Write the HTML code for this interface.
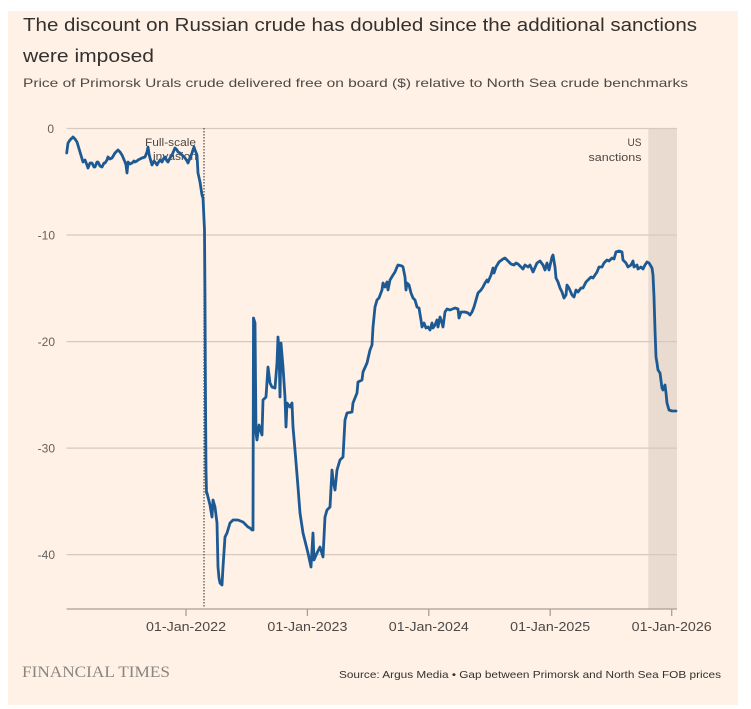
<!DOCTYPE html>
<html>
<head>
<meta charset="utf-8">
<style>
html,body{margin:0;padding:0;background:#ffffff;}
svg{display:block;}
text{font-family:"Liberation Sans",sans-serif;}
text.serif{font-family:"Liberation Serif",serif;}
</style>
</head>
<body>
<svg width="751" height="709" viewBox="0 0 751 709" xmlns="http://www.w3.org/2000/svg">
<rect x="0" y="0" width="751" height="709" fill="#ffffff"/>
<rect x="8" y="11" width="730" height="694" fill="#fff1e5"/>

<!-- titles -->
<text x="23" y="31" font-size="18.5" fill="#33302e" textLength="674" lengthAdjust="spacingAndGlyphs">The discount on Russian crude has doubled since the additional sanctions</text>
<text x="23" y="62" font-size="18.5" fill="#33302e" textLength="131" lengthAdjust="spacingAndGlyphs">were imposed</text>
<text x="23" y="87" font-size="12" fill="#4d4845" textLength="665" lengthAdjust="spacingAndGlyphs">Price of Primorsk Urals crude delivered free on board ($) relative to North Sea crude benchmarks</text>

<!-- shaded US sanctions band -->
<rect x="648.3" y="128.5" width="28.7" height="480.5" fill="#e9dbd0"/>

<!-- gridlines -->
<g stroke="#d6c9be" stroke-width="1.3">
<line x1="66.5" y1="128.5" x2="677" y2="128.5"/>
<line x1="66.5" y1="235" x2="677" y2="235"/>
<line x1="66.5" y1="341.6" x2="677" y2="341.6"/>
<line x1="66.5" y1="448.1" x2="677" y2="448.1"/>
<line x1="66.5" y1="554.6" x2="677" y2="554.6"/>
</g>

<!-- y labels -->
<g font-size="12" fill="#66605c" text-anchor="end">
<text x="54" y="133">0</text>
<text x="55" y="239.5">-10</text>
<text x="55" y="346">-20</text>
<text x="55" y="452.5">-30</text>
<text x="55" y="559">-40</text>
</g>

<!-- x axis -->
<line x1="66.5" y1="609" x2="677" y2="609" stroke="#aaa097" stroke-width="1.3"/>
<g stroke="#aaa097" stroke-width="1.3">
<line x1="186" y1="609" x2="186" y2="616"/>
<line x1="307.4" y1="609" x2="307.4" y2="616"/>
<line x1="428.8" y1="609" x2="428.8" y2="616"/>
<line x1="550.2" y1="609" x2="550.2" y2="616"/>
<line x1="671.7" y1="609" x2="671.7" y2="616"/>
</g>
<g font-size="13" fill="#4d4845" text-anchor="middle">
<text x="186" y="631" textLength="80" lengthAdjust="spacingAndGlyphs">01-Jan-2022</text>
<text x="307.4" y="631" textLength="80" lengthAdjust="spacingAndGlyphs">01-Jan-2023</text>
<text x="428.8" y="631" textLength="80" lengthAdjust="spacingAndGlyphs">01-Jan-2024</text>
<text x="550.2" y="631" textLength="80" lengthAdjust="spacingAndGlyphs">01-Jan-2025</text>
<text x="671.7" y="631" textLength="80" lengthAdjust="spacingAndGlyphs">01-Jan-2026</text>
</g>

<!-- invasion dotted line -->
<line x1="204" y1="128" x2="204" y2="608" stroke="#4d4845" stroke-width="1.2" stroke-dasharray="1.5,1.5"/>

<!-- annotations -->
<g font-size="11" fill="#4d4845" text-anchor="end">
<text x="196" y="146" textLength="51" lengthAdjust="spacingAndGlyphs">Full-scale</text>
<text x="197" y="160" textLength="44" lengthAdjust="spacingAndGlyphs">invasion</text>
<text x="641.5" y="146" textLength="14" lengthAdjust="spacingAndGlyphs">US</text>
<text x="641.5" y="161" textLength="53" lengthAdjust="spacingAndGlyphs">sanctions</text>
</g>

<!-- series -->
<polyline fill="none" stroke="#1d5a94" stroke-width="2.8" stroke-linejoin="round" stroke-linecap="round" points="
66.7,153 68,143 70,140 73,137 75,139 77,142 80,152 83,162 85,160 87,165 88,168 90,163 92,163 94,167 95,167 97,162 98,162 100,166 102,167 104,163 105,163 107,160 108,157 110,159 112,158 115,153 118,150 120,152 122,155 125,162 126,165 127,173 128,162 130,164 132,163 134,161 135,162 137,161 138,160 140,159 142,158 145,157 147,152 148,147 149,154 150,158 152,165 154,161 155,162 157,165 158,163 160,160 162,162 164,158 165,157 167,161 168,162 170,158 172,155 175,148 177,150 178,152 180,153 182,155 184,157 185,158 187,161 188,163 190,158 192,153 194,147 195,150 197,155 198,173 200,182 202,195 203,198 204.5,230 205,300 205.5,400 206,470 206.5,493
207,493 208,497 210,505 212,517 213,500 215,507 217,523 218,567 219,578 220,583 222,585 223,567 225,537 227,533 230,523 233,520 238,520 243,522 248,527 250,528 252,530 253,530 253.5,318 255,323 256,433 257,440 259,425 262,435 263,400 266,397 268,367 270,383 272,387 275,388 277,363 278,337 279,350 280,397 281,343 283,367 285,397 286,427 287,403 290,407 292,403 293,427 295,450 298,487 300,513 303,533 306,545 308,553 311,567 313,533 314,560 317,553 320,547 323,557 325,517 327,510 330,507 332,470 333,480 335,490 337,470 340,460 343,457 345,420 347,413 352,412 353,403 357,393 358,382 362,380 363,372 367,363 370,350 372,345
373,327 375,307 377,300 379,298 382,290 383,283 385,287 387,282 388,290 390,280 393,275 395,272 397,267 398,265 402,266 403,267 405,277 406,290 407,283 409,285 411,293 413,298 415,300 417,307 419,308 421,320 422,327 424,323 426,328 428,327 430,330 432,323 433,328 435,325 437,320 438,327 440,317 442,323 443,327 445,312 447,309 450,310 455,308 458,309 459,318 461,312 465,312 468,313 470,315 472,312 474,307 476,300 478,293 481,290 483,287 485,283 487,280 488,282 491,275 493,268 494,273 496,267 499,262 503,259 505,258 508,261 511,264 514,265 516,263 518,264 521,267 523,269 525,265 528,267
530,265 533,272 537,263 540,261 543,265 545,270 547,263 549,270 552,257 553,255 555,267 556,278 558,282 560,288 562,292 564,298 566,295 567,285 569,288 572,295 574,297 576,290 578,292 581,288 583,288 586,282 588,280 591,277 593,278 597,272 599,267 602,267 604,263 607,260 609,261 612,258 614,259 616,252 619,251 622,252 623,260 626,263 628,267 631,265 633,261 634,267 637,265 638,269 641,267 643,269 645,265 647,262 649,263 652,268 653,275 654,297 655,330 656,357 657,363 658,370 660,373 662,388 663,390 665,385 666,393 667,403 669,410 672,411 676,411"/>

<!-- footer -->
<text class="serif" x="22" y="677" font-size="16" fill="#8a8580" textLength="148" lengthAdjust="spacingAndGlyphs" style="font-family:'Liberation Serif',serif;">FINANCIAL TIMES</text>
<text x="339" y="678" font-size="10.5" fill="#33302e" textLength="382" lengthAdjust="spacingAndGlyphs">Source: Argus Media • Gap between Primorsk and North Sea FOB prices</text>
</svg>
</body>
</html>
